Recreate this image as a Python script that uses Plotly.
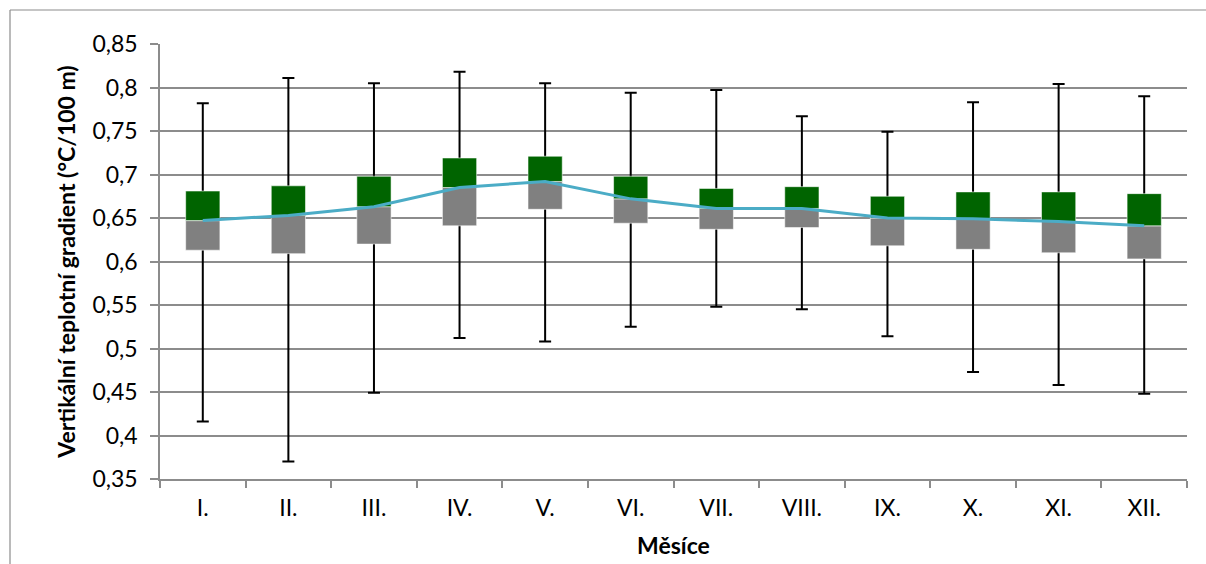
import plotly.graph_objects as go

months = ["I.", "II.", "III.", "IV.", "V.", "VI.", "VII.", "VIII.", "IX.", "X.", "XI.", "XII."]
minimum = [0.416, 0.370, 0.449, 0.512, 0.508, 0.525, 0.548, 0.545, 0.514, 0.473, 0.458, 0.448]
q1 = [0.613, 0.609, 0.620, 0.641, 0.660, 0.644, 0.637, 0.639, 0.618, 0.614, 0.610, 0.603]
average = [0.647, 0.653, 0.663, 0.685, 0.692, 0.672, 0.661, 0.661, 0.650, 0.649, 0.646, 0.641]
q3 = [0.681, 0.687, 0.698, 0.719, 0.721, 0.698, 0.684, 0.686, 0.675, 0.680, 0.680, 0.678]
maximum = [0.782, 0.811, 0.805, 0.818, 0.805, 0.794, 0.797, 0.767, 0.749, 0.783, 0.804, 0.790]

y_ticks = [0.35, 0.40, 0.45, 0.50, 0.55, 0.60, 0.65, 0.70, 0.75, 0.80, 0.85]
y_tick_text = ["0,35", "0,4", "0,45", "0,5", "0,55", "0,6", "0,65", "0,7", "0,75", "0,8", "0,85"]

FONT = "Lato"
BAR_W = 0.4

fig = go.Figure()

# whiskers (drawn first, behind the boxes)
fig.add_trace(go.Bar(
    x=months, y=average,
    width=BAR_W,
    marker=dict(color="rgba(0,0,0,0)", line=dict(width=0)),
    error_y=dict(
        type="data", symmetric=False,
        array=[mx - a for mx, a in zip(maximum, average)],
        arrayminus=[a - mn for a, mn in zip(average, minimum)],
        color="black", thickness=2, width=6,
    ),
    hoverinfo="skip", showlegend=False,
))

# lower box part (Q1 -> average)
fig.add_trace(go.Bar(
    x=months, y=[a - b for a, b in zip(average, q1)], base=q1,
    width=BAR_W,
    marker=dict(color="#808080", line=dict(color="rgba(255,255,255,0.55)", width=1)),
    showlegend=False,
))

# upper box part (average -> Q3)
fig.add_trace(go.Bar(
    x=months, y=[c - a for c, a in zip(q3, average)], base=average,
    width=BAR_W,
    marker=dict(color="#006400", line=dict(color="rgba(255,255,255,0.55)", width=1)),
    showlegend=False,
))

# average line
fig.add_trace(go.Scatter(
    x=months, y=average, mode="lines",
    line=dict(color="#4BACC6", width=3),
    showlegend=False,
))

fig.update_layout(
    width=1206, height=564,
    barmode="overlay",
    plot_bgcolor="white", paper_bgcolor="white",
    margin=dict(l=160, r=19, t=44, b=85, autoexpand=False),
    font=dict(family=FONT, size=23, color="black"),
    shapes=[
        dict(type="line", xref="paper", yref="paper",
             x0=(10 - 160) / 1027, x1=(10 - 160) / 1027, y0=(479 - 10) / 435, y1=-0.3,
             line=dict(color="#8c8c8c", width=1.2)),
        dict(type="line", xref="paper", yref="paper",
             x0=(10 - 160) / 1027, x1=1.1, y0=(479 - 10) / 435, y1=(479 - 10) / 435,
             line=dict(color="#8c8c8c", width=1.2)),
    ],
)

fig.update_yaxes(
    range=[0.35, 0.85],
    tickvals=y_ticks, ticktext=y_tick_text,
    showgrid=True, gridcolor="#8c8c8c", gridwidth=1.5,
    showline=True, linecolor="#8c8c8c", linewidth=1.5,
    ticks="outside", ticklen=8, tickcolor="#8c8c8c", tickwidth=1.5,
    ticklabelstandoff=8,
    zeroline=False,
    title=dict(text="<b>Vertikální teplotní gradient (°C/100 m)</b>",
               font=dict(family=FONT, size=23), standoff=10),
)

fig.update_xaxes(
    type="category", range=[-0.5, 11.5],
    showgrid=False,
    showline=True, linecolor="#8c8c8c", linewidth=1.5,
    ticks="outside", tickson="boundaries", ticklen=7, tickcolor="#8c8c8c", tickwidth=1.5,
    ticklabelstandoff=8,
    title=dict(text="<b>Měsíce</b>", font=dict(family=FONT, size=23), standoff=18),
)

fig.write_html("out.html")
